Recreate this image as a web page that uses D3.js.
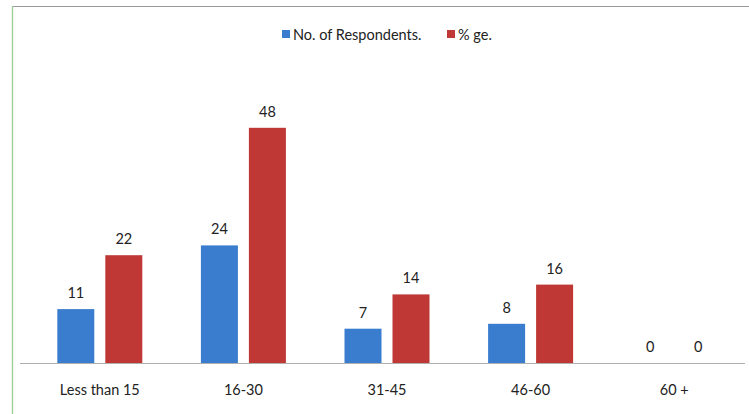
<!DOCTYPE html>
<html>
<head>
<meta charset="utf-8">
<script src="https://cdn.jsdelivr.net/npm/d3@7"></script>
<style>
  html, body { margin: 0; padding: 0; background: #fff; }
  svg { display: block; font-family: Lato, "Open Sans", sans-serif; }
</style>
</head>
<body>
<svg id="chart" width="749" height="414"></svg>
<script>
// Age groups and the two series plotted for each
const categories = ["Less than 15", "16-30", "31-45", "46-60", "60 +"];
const respondents = [11, 24, 7, 8, 0];
const percentage = [22, 48, 14, 16, 0];
const seriesNames = ["No. of Respondents.", "% ge."];
const seriesColors = ["#3a7dcf", "#bf3836"];

const svg = d3.select("#chart");
const W = 749, H = 414;

// Chart frame
svg.append("line").attr("x1", 12).attr("x2", W).attr("y1", 6.5).attr("y2", 6.5)
  .attr("stroke", "#9a9a9a").attr("stroke-width", 1.2);
svg.append("line").attr("x1", 12.5).attr("x2", 12.5).attr("y1", 6).attr("y2", H)
  .attr("stroke", "#9fcf9a").attr("stroke-width", 1.4);

const plot = { left: 28, right: 746, top: 69, bottom: 363 };

const x = d3.scaleBand().domain(categories).range([plot.left, plot.right]);
const y = d3.scaleLinear().domain([0, 60]).range([plot.bottom, plot.top]);

const series = [respondents, percentage];
const barW = 37, offset = 24;

series.forEach((vals, si) => {
  const g = svg.append("g");
  const dx = si === 0 ? -offset : offset;
  g.selectAll("rect").data(categories).join("rect")
    .attr("x", c => x(c) + x.bandwidth() / 2 + dx - barW / 2)
    .attr("y", (c, i) => y(vals[i]))
    .attr("width", barW)
    .attr("height", (c, i) => y(0) - y(vals[i]))
    .attr("fill", seriesColors[si]);
  g.selectAll("text").data(categories).join("text")
    .attr("x", c => x(c) + x.bandwidth() / 2 + dx)
    .attr("y", (c, i) => y(vals[i]) - 11)
    .attr("text-anchor", "middle")
    .attr("font-size", 14.5)
    .attr("fill", "#222")
    .text((c, i) => vals[i]);
});

// Category axis
const axis = d3.axisBottom(x).tickSize(0).tickPadding(22);
const ag = svg.append("g").attr("transform", `translate(0,${plot.bottom})`).call(axis);
ag.select(".domain").attr("stroke", "#b0b0b0").attr("stroke-width", 1.2)
  .attr("d", `M20,0.5H745`);
ag.selectAll("text").attr("font-size", 14.5).attr("fill", "#222")
  .attr("font-family", "Lato, 'Open Sans', sans-serif");

// Legend
const legend = svg.append("g");
const legendX = [282, 447];
seriesNames.forEach((name, i) => {
  legend.append("rect").attr("x", legendX[i]).attr("y", 30).attr("width", 8).attr("height", 8)
    .attr("fill", seriesColors[i]);
  legend.append("text").attr("x", legendX[i] + 11).attr("y", 39.5)
    .attr("font-size", 14.5).attr("fill", "#222").text(name);
});
</script>
</body>
</html>
